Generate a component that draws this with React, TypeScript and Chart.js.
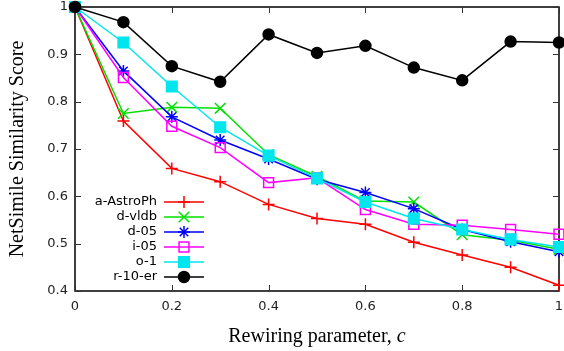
import React, { useEffect, useRef } from 'react';
import { Chart, registerables } from 'chart.js';

Chart.register(...registerables);

const rewiring = [0, 0.1, 0.2, 0.3, 0.4, 0.5, 0.6, 0.7, 0.8, 0.9, 1.0];
const aAstroPh = [1, 0.759, 0.659, 0.631, 0.583, 0.553, 0.541, 0.503, 0.476, 0.450, 0.412];
const dVldb = [1, 0.775, 0.788, 0.786, 0.688, 0.642, 0.590, 0.588, 0.519, 0.507, 0.488];
const d05 = [1, 0.865, 0.768, 0.719, 0.679, 0.636, 0.608, 0.574, 0.530, 0.504, 0.483];
const i05 = [1, 0.851, 0.748, 0.703, 0.629, 0.639, 0.572, 0.541, 0.539, 0.530, 0.520];
const o1 = [1, 0.925, 0.832, 0.746, 0.686, 0.638, 0.588, 0.553, 0.530, 0.509, 0.493];
const r10er = [1, 0.968, 0.875, 0.842, 0.942, 0.903, 0.918, 0.872, 0.845, 0.927, 0.925];

const seriesNames = ['a-AstroPh', 'd-vldb', 'd-05', 'i-05', 'o-1', 'r-10-er'];
const seriesValues = [aAstroPh, dVldb, d05, i05, o1, r10er];
const xTicks = [0, 0.2, 0.4, 0.6, 0.8, 1];
const xTickLabels = ['0', '0.2', '0.4', '0.6', '0.8', '1'];
const yTicks = [0.4, 0.5, 0.6, 0.7, 0.8, 0.9, 1];
const yTickLabels = ['0.4', '0.5', '0.6', '0.7', '0.8', '0.9', '1'];

const colors = ['#ff0000', '#00e000', '#0000ff', '#ff00ff', '#00e5ee', '#000000'];
const styles = ['cross', 'crossRot', 'star', 'rect', 'rect', 'circle'];
const radii = [6, 7.5, 6, 7, 7.5, 5.5];
const filled = [false, false, false, false, true, true];

function drawMarker(ctx: CanvasRenderingContext2D, style: string, x: number, y: number, r: number, color: string, fill: boolean) {
  ctx.save();
  ctx.strokeStyle = color;
  ctx.fillStyle = fill ? color : 'transparent';
  ctx.lineWidth = 1.5;
  ctx.beginPath();
  if (style === 'cross') {
    ctx.moveTo(x - r, y); ctx.lineTo(x + r, y);
    ctx.moveTo(x, y - r); ctx.lineTo(x, y + r);
    ctx.stroke();
  } else if (style === 'crossRot') {
    const o = r * Math.SQRT1_2;
    ctx.moveTo(x - o, y - o); ctx.lineTo(x + o, y + o);
    ctx.moveTo(x - o, y + o); ctx.lineTo(x + o, y - o);
    ctx.stroke();
  } else if (style === 'star') {
    const o = r * Math.SQRT1_2;
    ctx.moveTo(x - r, y); ctx.lineTo(x + r, y);
    ctx.moveTo(x, y - r); ctx.lineTo(x, y + r);
    ctx.moveTo(x - o, y - o); ctx.lineTo(x + o, y + o);
    ctx.moveTo(x - o, y + o); ctx.lineTo(x + o, y - o);
    ctx.stroke();
  } else if (style === 'rect') {
    const s = Math.SQRT1_2 * r;
    ctx.rect(x - s, y - s, 2 * s, 2 * s);
    if (fill) ctx.fill();
    ctx.stroke();
  } else {
    ctx.arc(x, y, r, 0, Math.PI * 2);
    if (fill) ctx.fill();
    ctx.stroke();
  }
  ctx.restore();
}

const framePlugin = {
  id: 'gnuframe',
  beforeDatasetsDraw(chart: any) {
    const { ctx, chartArea: a, scales } = chart;
    ctx.save();
    ctx.strokeStyle = '#000';
    ctx.lineWidth = 1.5;
    ctx.strokeRect(a.left, a.top, a.right - a.left, a.bottom - a.top);
    ctx.lineWidth = 1;
    ctx.strokeStyle = '#333';
    const tl = 6;
    ctx.beginPath();
    xTicks.forEach((v) => {
      const px = Math.round(scales.x.getPixelForValue(v)) + 0.5;
      ctx.moveTo(px, a.bottom); ctx.lineTo(px, a.bottom - tl);
      ctx.moveTo(px, a.top); ctx.lineTo(px, a.top + tl);
    });
    yTicks.forEach((v) => {
      const py = Math.round(scales.y.getPixelForValue(v)) + 0.5;
      ctx.moveTo(a.left, py); ctx.lineTo(a.left + tl, py);
      ctx.moveTo(a.right, py); ctx.lineTo(a.right - tl, py);
    });
    ctx.stroke();
    // tick labels
    ctx.fillStyle = '#222';
    ctx.font = '13px "DejaVu Sans"';
    ctx.textAlign = 'center';
    ctx.textBaseline = 'middle';
    xTicks.forEach((v, i) => {
      ctx.fillText(xTickLabels[i], scales.x.getPixelForValue(v), a.bottom + 16);
    });
    ctx.textAlign = 'right';
    yTicks.forEach((v, i) => {
      ctx.fillText(yTickLabels[i], a.left - 7, scales.y.getPixelForValue(v));
    });
    ctx.restore();
  },
  afterDraw(chart: any) {
    const { ctx, chartArea: a } = chart;
    ctx.save();
    // legend
    ctx.font = '13px "DejaVu Sans"';
    ctx.textAlign = 'right';
    ctx.textBaseline = 'middle';
    seriesNames.forEach((name, i) => {
      const y = 202 + i * 15;
      ctx.fillStyle = '#000';
      ctx.fillText(name, 157, y);
      ctx.strokeStyle = colors[i];
      ctx.lineWidth = 1.5;
      ctx.beginPath();
      ctx.moveTo(164, y); ctx.lineTo(204, y);
      ctx.stroke();
      drawMarker(ctx, styles[i], 184, y, radii[i], colors[i], filled[i]);
    });
    // x title
    ctx.fillStyle = '#000';
    ctx.textBaseline = 'alphabetic';
    ctx.textAlign = 'left';
    const base = 'Rewiring parameter, ';
    ctx.font = '20px "Liberation Serif"';
    const w1 = ctx.measureText(base).width;
    ctx.font = 'italic 20px "Liberation Serif"';
    const w2 = ctx.measureText('c').width;
    const cx = (a.left + a.right) / 2;
    const sx = cx - (w1 + w2) / 2;
    ctx.font = '20px "Liberation Serif"';
    ctx.fillText(base, sx, 342);
    ctx.font = 'italic 20px "Liberation Serif"';
    ctx.fillText('c', sx + w1, 342);
    // y title
    ctx.font = '20px "Liberation Serif"';
    ctx.textAlign = 'center';
    ctx.textBaseline = 'middle';
    ctx.translate(18, (a.top + a.bottom) / 2);
    ctx.rotate(-Math.PI / 2);
    ctx.fillText('NetSimile Similarity Score', 0, 0);
    ctx.restore();
  },
};

export default function App() {
  const ref = useRef<HTMLCanvasElement>(null);
  useEffect(() => {
    if (!ref.current) return;
    const n = seriesNames.length;
    const chart = new Chart(ref.current, {
      type: 'line',
      data: {
        datasets: seriesNames.map((name, i) => ({
          label: name,
          data: rewiring.map((x, j) => ({ x, y: seriesValues[i][j] })),
          borderColor: colors[i],
          backgroundColor: filled[i] ? colors[i] : 'rgba(0,0,0,0)',
          borderWidth: 1.5,
          pointStyle: styles[i] as any,
          pointRadius: radii[i],
          pointBorderWidth: 1.5,
          pointBorderColor: colors[i],
          pointBackgroundColor: filled[i] ? colors[i] : 'rgba(0,0,0,0)',
          tension: 0,
          clip: false as any,
          order: n - i,
        })),
      },
      options: {
        animation: false,
        responsive: false,
        layout: { autoPadding: false, padding: { top: 7, right: 5, left: 0, bottom: 0 } },
        plugins: { legend: { display: false }, tooltip: { enabled: false } },
        scales: {
          x: {
            type: 'linear',
            min: 0,
            max: 1,
            grid: { display: false, drawTicks: false },
            border: { display: false },
            ticks: { display: false },
            afterFit: (s: any) => { s.height = 60; },
          },
          y: {
            type: 'linear',
            min: 0.4,
            max: 1,
            grid: { display: false, drawTicks: false },
            border: { display: false },
            ticks: { display: false },
            afterFit: (s: any) => { s.width = 75; },
          },
        },
      },
      plugins: [framePlugin],
    });
    return () => chart.destroy();
  }, []);
  return (
    <div style={{ position: 'absolute', left: 0, top: 0, width: 564, height: 351, background: '#fff' }}>
      <canvas ref={ref} width={564} height={351} />
    </div>
  );
}
